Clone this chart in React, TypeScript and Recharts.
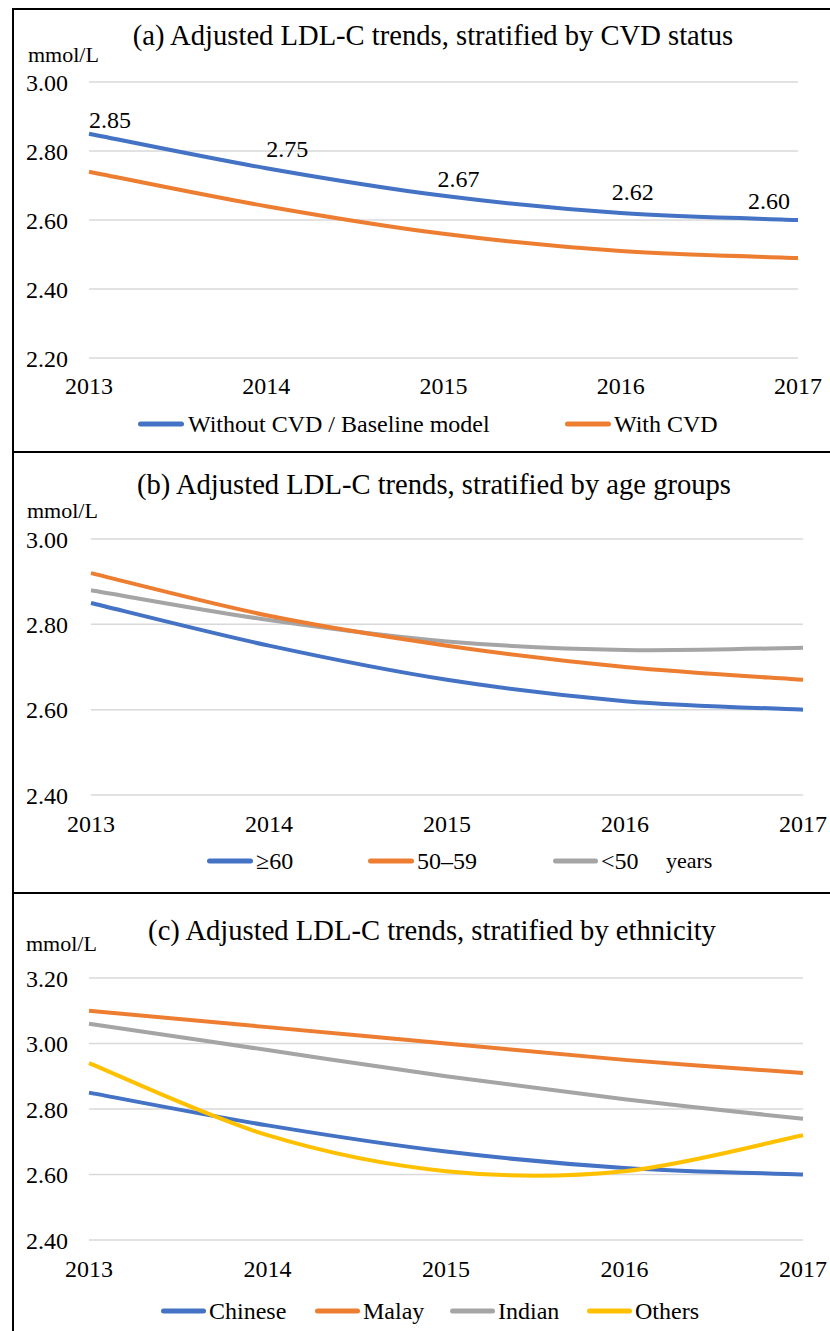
import React from 'react';
import { LineChart, Line, XAxis, YAxis, CartesianGrid, LabelList } from 'recharts';

const years = ['2013', '2014', '2015', '2016', '2017'];

// Panel (a)
const cvdWithout = [2.85, 2.75, 2.67, 2.62, 2.6];
const cvdWith = [2.74, 2.64, 2.56, 2.51, 2.49];
const ticksA = [2.2, 2.4, 2.6, 2.8, 3.0];

// Panel (b)
const age60plus = [2.85, 2.75, 2.67, 2.62, 2.6];
const age50to59 = [2.92, 2.82, 2.75, 2.7, 2.67];
const ageUnder50 = [2.88, 2.81, 2.76, 2.74, 2.745];
const ticksB = [2.4, 2.6, 2.8, 3.0];

// Panel (c)
const chinese = [2.85, 2.75, 2.67, 2.62, 2.6];
const malay = [3.1, 3.05, 3.0, 2.95, 2.91];
const indian = [3.06, 2.98, 2.9, 2.83, 2.77];
const others = [2.94, 2.72, 2.61, 2.61, 2.72];
const ticksC = [2.4, 2.6, 2.8, 3.0, 3.2];

const BLUE = '#4472C4';
const ORANGE = '#ED7D31';
const GRAY = '#A5A5A5';
const YELLOW = '#FFC000';
const GRID = '#D9D9D9';
const FONT = '"Liberation Serif", "Times New Roman", serif';

// label offsets (dx, dy above point) for data labels in panel (a)
const labelDx = [21, 21, 15, 12, -29];
const labelDy = [6, 11, 9, 13, 11];

const dataA = years.map((y, i) => ({ year: y, without: cvdWithout[i], withCvd: cvdWith[i] }));
const dataB = years.map((y, i) => ({ year: y, a60: age60plus[i], a5059: age50to59[i], a50: ageUnder50[i] }));
const dataC = years.map((y, i) => ({ year: y, chinese: chinese[i], malay: malay[i], indian: indian[i], others: others[i] }));

// Excel-like smoothed line (Catmull-Rom style Bezier)
function excelSmooth(context: any) {
  let pts: [number, number][] = [];
  return {
    areaStart() {},
    areaEnd() {},
    lineStart() {
      pts = [];
    },
    lineEnd() {
      const n = pts.length;
      if (n === 0) return;
      context.moveTo(pts[0][0], pts[0][1]);
      for (let i = 0; i < n - 1; i++) {
        const p0 = pts[i - 1] || pts[i];
        const p1 = pts[i];
        const p2 = pts[i + 1];
        const p3 = pts[i + 2] || p2;
        context.bezierCurveTo(
          p1[0] + (p2[0] - p0[0]) / 6,
          p1[1] + (p2[1] - p0[1]) / 6,
          p2[0] - (p3[0] - p1[0]) / 6,
          p2[1] - (p3[1] - p1[1]) / 6,
          p2[0],
          p2[1]
        );
      }
    },
    point(x: number, y: number) {
      pts.push([+x, +y]);
    },
  };
}

const tickStyle = { fontFamily: FONT, fontSize: 24, fill: '#000' };
const fmt = (v: number) => v.toFixed(2);

const DataLabel = (props: any) => {
  const { x, y, value, index } = props;
  return (
    <text
      x={x + labelDx[index]}
      y={y - labelDy[index]}
      textAnchor="middle"
      fontFamily={FONT}
      fontSize={24}
      fill="#000"
    >
      {Number(value).toFixed(2)}
    </text>
  );
};

const lineProps = {
  type: excelSmooth as any,
  strokeWidth: 4,
  dot: false,
  activeDot: false,
  isAnimationActive: false,
};

type LegendItem = { x1: number; x2: number; tx: number; color: string; label: string };

const LegendRow = ({ items, y, extra }: { items: LegendItem[]; y: number; extra?: React.ReactNode }) => (
  <g>
    {items.map((it) => (
      <g key={it.label}>
        <line x1={it.x1 + 2.5} x2={it.x2 - 2.5} y1={y} y2={y} stroke={it.color} strokeWidth={5} strokeLinecap="round" />
        <text x={it.tx} y={y + 8} fontFamily={FONT} fontSize={24} fill="#000">
          {it.label}
        </text>
      </g>
    ))}
    {extra}
  </g>
);

const legendA: LegendItem[] = [
  { x1: 138, x2: 184, tx: 188, color: BLUE, label: 'Without CVD / Baseline model' },
  { x1: 565, x2: 611, tx: 614, color: ORANGE, label: 'With CVD' },
];
const legendB: LegendItem[] = [
  { x1: 207, x2: 253, tx: 256, color: BLUE, label: '≥60' },
  { x1: 368, x2: 414, tx: 417, color: ORANGE, label: '50–59' },
  { x1: 553, x2: 598, tx: 601, color: GRAY, label: '<50' },
];
const legendC: LegendItem[] = [
  { x1: 161, x2: 206, tx: 209, color: BLUE, label: 'Chinese' },
  { x1: 315, x2: 360, tx: 363, color: ORANGE, label: 'Malay' },
  { x1: 450, x2: 495, tx: 498, color: GRAY, label: 'Indian' },
  { x1: 587, x2: 632, tx: 635, color: YELLOW, label: 'Others' },
];

export default function App() {
  return (
    <div
      style={{
        position: 'absolute',
        left: 0,
        top: 0,
        width: 830,
        height: 1331,
        overflow: 'hidden',
        background: '#fff',
        fontFamily: FONT,
      }}
    >
      {/* Panel (a) */}
      <div style={{ position: 'absolute', left: 0, top: 0 }}>
        <LineChart width={830} height={452} data={dataA} margin={{ top: 82, right: 32, bottom: 0, left: 0 }}>
          <CartesianGrid vertical={false} stroke={GRID} strokeWidth={1.5} />
          <XAxis dataKey="year" axisLine={false} tickLine={false} tickSize={0} tickMargin={19} height={94} tick={tickStyle} interval={0} />
          <YAxis domain={[2.2, 3.0]} ticks={ticksA} tickFormatter={fmt} axisLine={false} tickLine={false} tickSize={0} tickMargin={21} width={89} tick={tickStyle} />
          <Line dataKey="withCvd" stroke={ORANGE} {...lineProps} />
          <Line dataKey="without" stroke={BLUE} {...lineProps}>
            <LabelList dataKey="without" content={<DataLabel />} />
          </Line>
        </LineChart>
      </div>

      {/* Panel (b) */}
      <div style={{ position: 'absolute', left: 0, top: 452 }}>
        <LineChart width={830} height={441} data={dataB} margin={{ top: 87, right: 27, bottom: 0, left: 0 }}>
          <CartesianGrid vertical={false} stroke={GRID} strokeWidth={1.5} />
          <XAxis dataKey="year" axisLine={false} tickLine={false} tickSize={0} tickMargin={20} height={98} tick={tickStyle} interval={0} />
          <YAxis domain={[2.4, 3.0]} ticks={ticksB} tickFormatter={fmt} axisLine={false} tickLine={false} tickSize={0} tickMargin={23} width={91} tick={tickStyle} />
          <Line dataKey="a50" stroke={GRAY} {...lineProps} />
          <Line dataKey="a5059" stroke={ORANGE} {...lineProps} />
          <Line dataKey="a60" stroke={BLUE} {...lineProps} />
        </LineChart>
      </div>

      {/* Panel (c) */}
      <div style={{ position: 'absolute', left: 0, top: 893 }}>
        <LineChart width={830} height={438} data={dataC} margin={{ top: 85, right: 27, bottom: 0, left: 0 }}>
          <CartesianGrid vertical={false} stroke={GRID} strokeWidth={1.5} />
          <XAxis dataKey="year" axisLine={false} tickLine={false} tickSize={0} tickMargin={20} height={91} tick={tickStyle} interval={0} />
          <YAxis domain={[2.4, 3.2]} ticks={ticksC} tickFormatter={fmt} axisLine={false} tickLine={false} tickSize={0} tickMargin={21} width={89} tick={tickStyle} />
          <Line dataKey="chinese" stroke={BLUE} {...lineProps} />
          <Line dataKey="malay" stroke={ORANGE} {...lineProps} />
          <Line dataKey="indian" stroke={GRAY} {...lineProps} />
          <Line dataKey="others" stroke={YELLOW} {...lineProps} />
        </LineChart>
      </div>

      {/* Overlay: frame, titles, units, legends */}
      <svg width={830} height={1331} style={{ position: 'absolute', left: 0, top: 0, pointerEvents: 'none' }}>
        <line x1={13} x2={13} y1={8} y2={1331} stroke="#000" strokeWidth={2} />
        <line x1={12} x2={830} y1={9} y2={9} stroke="#000" strokeWidth={2} />
        <line x1={12} x2={830} y1={452} y2={452} stroke="#000" strokeWidth={2} />
        <line x1={12} x2={830} y1={893} y2={893} stroke="#000" strokeWidth={2} />

        <text x={433} y={45} textAnchor="middle" fontFamily={FONT} fontSize={28.6} fill="#000">
          (a) Adjusted LDL-C trends, stratified by CVD status
        </text>
        <text x={434} y={494} textAnchor="middle" fontFamily={FONT} fontSize={28.6} fill="#000">
          (b) Adjusted LDL-C trends, stratified by age groups
        </text>
        <text x={432} y={940} textAnchor="middle" fontFamily={FONT} fontSize={28.6} fill="#000">
          (c) Adjusted LDL-C trends, stratified by ethnicity
        </text>

        <text x={28} y={62} fontFamily={FONT} fontSize={22} fill="#000">mmol/L</text>
        <text x={27} y={518} fontFamily={FONT} fontSize={22} fill="#000">mmol/L</text>
        <text x={26} y={951} fontFamily={FONT} fontSize={22} fill="#000">mmol/L</text>

        <LegendRow items={legendA} y={424} />
        <LegendRow
          items={legendB}
          y={861}
          extra={
            <text x={666} y={868} fontFamily={FONT} fontSize={22} fill="#000">
              years
            </text>
          }
        />
        <LegendRow items={legendC} y={1311} />
      </svg>
    </div>
  );
}
